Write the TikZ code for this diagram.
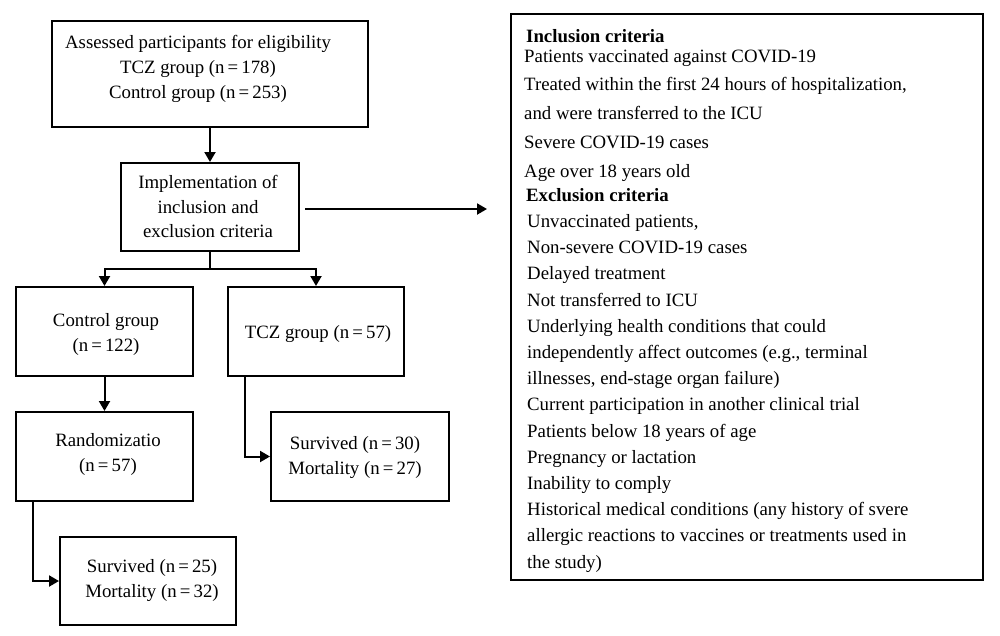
\documentclass[tikz,border=0pt]{standalone}
\usepackage{fontspec}
\setmainfont{Liberation Serif}
\usetikzlibrary{arrows.meta}
\begin{document}
\begin{tikzpicture}[x=1pt,y=-1pt,
  box/.style={draw, line width=2pt, anchor=north west, inner sep=0pt},
  ln/.style={line width=2pt},
  arr/.style={line width=2pt, -{Triangle[length=10pt,width=11pt]}},
  txt/.style={font=\fontsize{18.8}{22}\selectfont, inner sep=0pt}]
\useasboundingbox (0,0) rectangle (1000,635);
% boxes
\node[box, minimum width=316pt, minimum height=106pt] (b1) at (51,20) {};
\node[box, minimum width=178pt, minimum height=88pt] (b2) at (120,162) {};
\node[box, minimum width=177pt, minimum height=89pt] (b3) at (15,286) {};
\node[box, minimum width=176pt, minimum height=89pt] (b4) at (227,286) {};
\node[box, minimum width=177pt, minimum height=89pt] (b5) at (15,411) {};
\node[box, minimum width=178pt, minimum height=89pt] (b6) at (270,411) {};
\node[box, minimum width=176pt, minimum height=88pt] (b7) at (59,536) {};
\node[box, minimum width=472pt, minimum height=566pt] (rb) at (510,13) {};
% left texts
\foreach \n/\x/\y/\t in {
  a1/198/48/{Assessed participants for eligibility},
  a2/198/73/{TCZ group (n\,=\,178)},
  a3/198/98/{Control group (n\,=\,253)},
  c1/208/188/{Implementation of},
  c2/208/213/{inclusion and},
  c3/208/237/{exclusion criteria},
  d1/106/326/{Control group},
  d2/106/351/{(n\,=\,122)},
  e1/318/338/{TCZ group (n\,=\,57)},
  f1/108/446/{Randomizatio},
  f2/108/471/{(n\,=\,57)},
  g1/355/449/{Survived (n\,=\,30)},
  g2/355/474/{Mortality (n\,=\,27)},
  h1/152/572/{Survived (n\,=\,25)},
  h2/152/597/{Mortality (n\,=\,32)}}
  \node[txt, anchor=base] (\n) at (\x,\y) {\t};
% right texts
\node[txt, anchor=base west, font=\fontsize{18.8}{22}\selectfont\bfseries] (r0) at (526,42) {Inclusion criteria};
\node[txt, anchor=base west, font=\fontsize{18.8}{22}\selectfont\bfseries] (r6) at (526,201) {Exclusion criteria};
\foreach \n/\x/\y/\t in {
  r1/524/62/{Patients vaccinated against COVID-19},
  r2/524/90/{Treated within the first 24 hours of hospitalization,},
  r3/524/119/{and were transferred to the ICU},
  r4/524/148/{Severe COVID-19 cases},
  r5/524/177/{Age over 18 years old},
  r7/527/227/{Unvaccinated patients,},
  r8/527/253/{Non-severe COVID-19 cases},
  r9/527/279/{Delayed treatment},
  r10/527/306/{Not transferred to ICU},
  r11/527/332/{Underlying health conditions that could},
  r12/527/358/{independently affect outcomes (e.g., terminal},
  r13/527/384/{illnesses, end-stage organ failure)},
  r14/527/410/{Current participation in another clinical trial},
  r15/527/437/{Patients below 18 years of age},
  r16/527/463/{Pregnancy or lactation},
  r17/527/489/{Inability to comply},
  r18/527/515/{Historical medical conditions (any history of svere},
  r19/527/541/{allergic reactions to vaccines or treatments used in},
  r20/527/568/{the study)}}
  \node[txt, anchor=base west] (\n) at (\x,\y) {\t};
% connectors
\coordinate (c) at (487,209);
\path (b2.south) ++(0,17) coordinate (s);
\draw[arr] (b1.south) -- (b2.north);
\draw[arr] ([xshift=5pt]b2.east |- c) -- (c);
\draw[ln] (b2.south) -- (s);
\draw[arr] (s) -| (b3.north);
\draw[arr] (s) -| (b4.north);
\draw[arr] (b3.south) -- (b5.north);
\draw[arr] ([xshift=18pt]b4.south west) |- (b6.west);
\draw[arr] ([xshift=18pt]b5.south west) |- (b7.west);
\end{tikzpicture}
\end{document}
